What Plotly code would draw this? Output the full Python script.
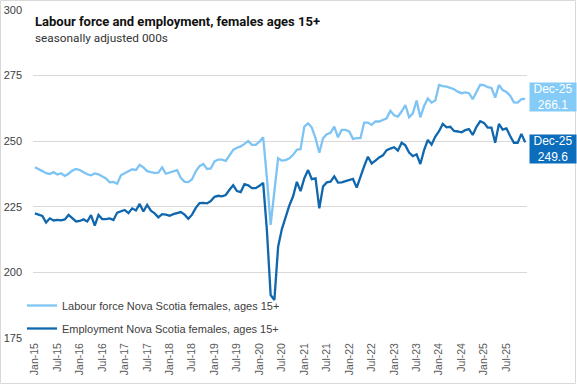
import plotly.graph_objects as go

months = ["Jan", "Feb", "Mar", "Apr", "May", "Jun", "Jul", "Aug", "Sep", "Oct", "Nov", "Dec"]
years = list(range(15, 26))
categories = [f"{m}-{y:02d}" for y in years for m in months]

labour_force = [
    240.1, 239.5, 238.6, 237.8, 237.5, 238.2, 237.3, 237.8, 236.8, 237.6, 238.8, 239.4,
    239.0, 238.2, 237.4, 237.0, 237.7, 237.4, 236.5, 235.8, 234.3, 234.5, 233.8, 237.0,
    237.8, 238.6, 239.3, 239.0, 241.0, 240.0, 238.6, 238.2, 237.9, 238.0, 240.0, 237.6,
    238.0, 238.6, 239.0, 236.0, 234.5, 234.4, 235.5, 238.5, 240.5, 241.3, 239.4, 239.6,
    242.3, 243.0, 243.0, 242.5, 244.5, 246.7, 247.5, 248.0, 249.0, 250.1, 248.6, 248.6,
    249.8, 251.5, 236.0, 218.1, 231.0, 243.5, 242.6, 242.8, 243.5, 244.8, 246.7, 247.0,
    255.6, 256.8, 255.2, 251.1, 245.6, 251.1, 252.7, 253.2, 255.6, 251.5, 254.3, 254.3,
    253.7, 250.9, 251.2, 251.2, 257.1, 257.1, 256.2, 257.5, 257.5, 258.0, 258.7, 261.6,
    259.9, 259.4, 261.3, 263.8, 259.1, 260.6, 265.5, 259.1, 263.4, 266.3, 264.7, 265.5,
    271.4, 271.0, 270.8, 270.3, 269.8, 268.9, 268.3, 268.6, 268.3, 266.0, 268.6, 271.5,
    271.4, 270.6, 270.3, 266.6, 271.4, 269.5, 268.8, 267.3, 264.8, 264.7, 266.0, 266.1,
]

employment = [
    222.5, 222.0, 221.5, 219.0, 220.6, 219.8, 220.0, 219.8, 220.2, 221.9, 220.6, 219.4,
    219.6, 220.2, 219.4, 221.8, 217.8, 221.9, 220.3, 220.3, 220.6, 220.0, 222.8, 223.4,
    223.8, 222.6, 224.4, 223.6, 226.1, 223.2, 225.7, 223.5, 222.5, 221.0, 222.2, 222.0,
    221.6, 222.2, 222.5, 223.0, 222.0, 220.4, 222.0, 224.6, 226.4, 226.5, 226.3, 227.2,
    228.8, 229.2, 229.0, 229.5, 231.5, 233.2, 231.0, 230.6, 233.6, 233.2, 232.1, 232.1,
    233.0, 234.1, 216.0, 191.4, 189.5, 209.8, 216.5, 221.0, 225.5, 229.0, 234.5, 231.0,
    235.9, 239.0, 235.5, 235.8, 224.4, 232.7, 234.3, 234.6, 236.6, 234.2, 234.3, 234.8,
    235.3, 235.6, 232.3, 236.8, 240.5, 244.1, 241.5, 242.6, 243.8, 244.6, 246.6, 247.2,
    247.7, 246.4, 249.4, 248.4, 245.7, 244.3, 245.0, 241.3, 246.6, 250.5, 248.7, 251.8,
    253.8, 256.6, 255.3, 255.5, 253.9, 253.7, 253.4, 254.2, 254.6, 252.4, 255.5, 257.6,
    257.0, 255.2, 255.2, 249.4, 256.6, 254.4, 254.9, 252.0, 249.4, 249.4, 252.8, 249.6,
]

tick_labels = categories[::6]
y_ticks = [175, 200, 225, 250, 275, 300]

lf_name = "Labour force Nova Scotia females, ages 15+"
emp_name = "Employment Nova Scotia females, ages 15+"
lf_color = "#7DC4F4"
emp_color = "#1067AE"

fig = go.Figure()
fig.add_trace(go.Scatter(x=categories, y=labour_force, mode="lines", name=lf_name,
                         legendgroup="lf", line=dict(color=lf_color, width=2.3)))
fig.add_trace(go.Scatter(x=categories, y=employment, mode="lines", name=emp_name,
                         legendgroup="emp", line=dict(color=emp_color, width=2.3)))

W, H = 577, 385
L, R, T, B = 33, 50, 10, 47
pw, ph = W - L - R, H - T - B

def px_x(p):
    return (p - L) / pw

def px_y(p):
    return (H - B - p) / ph

fig.update_layout(
    width=W, height=H,
    margin=dict(l=L, r=R, t=T, b=B, autoexpand=False),
    paper_bgcolor="white", plot_bgcolor="white",
    font=dict(family="Liberation Sans, Arial, sans-serif", color="#404040", size=11),
    showlegend=True,
    legend=dict(x=px_x(22), y=px_y(291), xanchor="left", yanchor="top",
                bgcolor="rgba(0,0,0,0)", font=dict(size=11, color="#404040"),
                tracegroupgap=4, itemwidth=30),
    xaxis=dict(type="category", range=[-0.5, len(categories) - 0.5], automargin=False,
               tickmode="array", tickvals=tick_labels, ticktext=tick_labels,
               tickangle=-90, tickfont=dict(size=10.5, color="#595959"),
               showgrid=False, showline=False, zeroline=False, ticks="",
               ticklabelstandoff=2),
    yaxis=dict(range=[175, 300], tickvals=y_ticks, showgrid=True, automargin=False,
               gridcolor="#D9D9D9", gridwidth=1, zeroline=False, showline=False,
               tickfont=dict(size=11, color="#404040"), ticklabelstandoff=10),
)

fig.add_annotation(xref="paper", yref="paper", x=px_x(33), y=px_y(21), xanchor="left",
                   yanchor="middle", showarrow=False,
                   text="<b>Labour force and employment, females ages 15+</b>",
                   font=dict(family="Roboto, Noto Sans, sans-serif", size=13, color="#111111"))
fig.add_annotation(xref="paper", yref="paper", x=px_x(33), y=px_y(38), xanchor="left",
                   yanchor="middle", showarrow=False, text="seasonally adjusted 000s",
                   font=dict(family="Roboto, Noto Sans, sans-serif", size=11.8, color="#333333"))

for vals, col, shift in [(labour_force, "#84CBF7", 2), (employment, "#0B6DBB", -7)]:
    fig.add_annotation(xref="paper", yref="y", x=px_x(529), y=vals[-1], xanchor="left",
                       yanchor="middle", yshift=shift, showarrow=False,
                       text=f"{categories[-1]}<br>{vals[-1]:.1f}", align="center",
                       bgcolor=col, width=44, height=26, borderpad=1,
                       font=dict(size=12, color="white"))

fig.add_shape(type="rect", xref="paper", yref="paper", x0=px_x(0.5), x1=px_x(575.5),
              y0=px_y(383.5), y1=px_y(0.5), line=dict(color="#D9D9D9", width=1), layer="below")

fig.write_html("out.html", config={"displayModeBar": False},
               post_script="document.body.style.margin='0';document.body.style.overflow='hidden';")
